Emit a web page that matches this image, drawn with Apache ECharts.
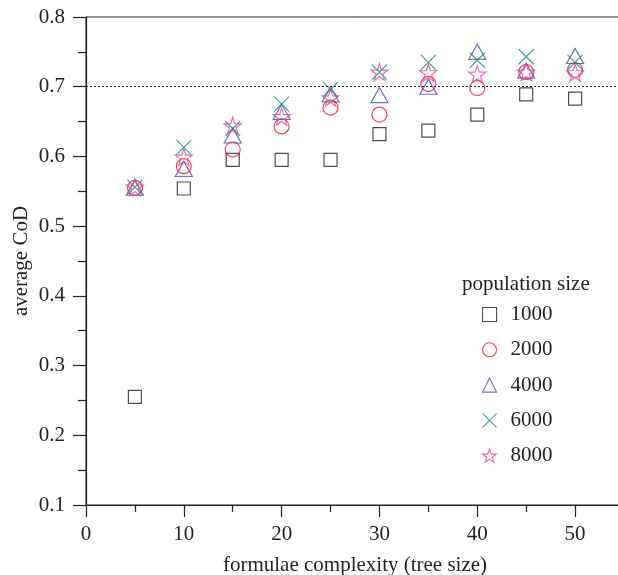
<!DOCTYPE html>
<html>
<head>
<meta charset="utf-8">
<script src="https://cdn.jsdelivr.net/npm/echarts@6/dist/echarts.min.js"></script>
<style>
  html, body { margin: 0; padding: 0; background: #fff; }
  #chart { width: 618px; height: 575px; }
</style>
</head>
<body>
<div id="chart"></div>
<script>
// tree sizes on the x axis
const treeSizes = [5, 10, 15, 20, 25, 30, 35, 40, 45, 50];

// average CoD per population size
const pop1000 = [0.255, 0.554, 0.595, 0.595, 0.595, 0.632, 0.637, 0.660, 0.689, 0.683];
const pop2000 = [0.555, 0.586, 0.610, 0.643, 0.670, 0.660, 0.704, 0.698, 0.721, 0.724];
const pop4000 = [0.555, 0.582, 0.630, 0.664, 0.689, 0.688, 0.700, 0.750, 0.723, 0.744];
const pop6000 = [0.556, 0.613, 0.640, 0.675, 0.696, 0.721, 0.735, 0.738, 0.743, 0.735];
const pop8000 = [0.556, 0.599, 0.644, 0.657, 0.684, 0.721, 0.720, 0.718, 0.721, 0.720];

const legendNames = ['1000', '2000', '4000', '6000', '8000'];
const threshold = 0.7;

const FONT = '"Liberation Serif", "DejaVu Serif", serif';
const FS = 21;
const INK = '#231f20';

const crossPath = 'path://M0,0L20,20M20,0L0,20';
const starPath = 'path://M10,0L12.245,6.91L19.511,6.91L13.633,11.18L15.878,18.09L10,13.82L4.122,18.09L6.367,11.18L0.489,6.91L7.755,6.91Z';

function pairs(vals) {
  return treeSizes.map((x, i) => [x, vals[i]]);
}

function makeSeries(name, vals, symbol, size, color) {
  return {
    name: name,
    type: 'scatter',
    data: pairs(vals),
    symbol: symbol,
    symbolSize: size,
    itemStyle: {
      color: 'rgba(255,255,255,0)',
      borderColor: color,
      borderWidth: 1.2,
    },
    emphasis: { disabled: true },
  };
}

const series = [
  makeSeries(legendNames[0], pop1000, 'rect', 13, INK),
  makeSeries(legendNames[1], pop2000, 'circle', 15, '#ec1c2e'),
  makeSeries(legendNames[2], pop4000, 'triangle', [17, 15], '#4a4fa8'),
  makeSeries(legendNames[3], pop6000, crossPath, 15, '#12897f'),
  makeSeries(legendNames[4], pop8000, starPath, 17, '#e0479e'),
];

// dotted reference line
series[0].markLine = {
  silent: true,
  symbol: ['none', 'none'],
  label: { show: false },
  lineStyle: { color: INK, type: [2, 2], width: 1 },
  data: [{ yAxis: threshold }],
};

const chart = echarts.init(document.getElementById('chart'), null, { renderer: 'canvas' });

chart.setOption({
  animation: false,
  backgroundColor: '#fff',
  grid: {
    left: 86,
    top: 17,
    width: 538,
    height: 488,
    outerBoundsMode: 'none',
    containLabel: false,
    show: true,
    borderColor: INK,
    borderWidth: 1,
  },
  xAxis: {
    type: 'value',
    min: 0,
    max: 55,
    interval: 10,
    name: 'formulae complexity (tree size)',
    nameLocation: 'middle',
    nameGap: 50,
    nameTextStyle: { fontFamily: FONT, fontSize: FS, color: INK },
    axisLine: { lineStyle: { color: INK, width: 1.2 } },
    axisTick: { inside: false, length: 12, lineStyle: { color: INK, width: 1.2 } },
    minorTick: { show: true, splitNumber: 2, length: 7, lineStyle: { color: INK, width: 1.2 } },
    axisLabel: { fontFamily: FONT, fontSize: FS, color: INK, margin: 19, showMaxLabel: false },
    splitLine: { show: false },
  },
  yAxis: {
    type: 'value',
    min: 0.1,
    max: 0.8,
    interval: 0.1,
    name: 'average CoD',
    nameLocation: 'middle',
    nameGap: 54,
    nameMoveOverlap: false,
    nameTextStyle: { fontFamily: FONT, fontSize: FS, color: INK },
    axisLine: { lineStyle: { color: INK, width: 1.2 } },
    axisTick: { inside: false, length: 13, lineStyle: { color: INK, width: 1.2 } },
    minorTick: { show: true, splitNumber: 2, length: 8, lineStyle: { color: INK, width: 1.2 } },
    axisLabel: {
      fontFamily: FONT, fontSize: FS, color: INK, margin: 21,
      formatter: (v) => v.toFixed(1),
    },
    splitLine: { show: false },
  },
  legend: {
    data: legendNames,
    orient: 'vertical',
    left: 477,
    top: 299,
    itemWidth: 14,
    itemHeight: 14,
    itemGap: 14.3,
    selectedMode: false,
    itemStyle: { borderWidth: 1.1 },
    textStyle: { fontFamily: FONT, fontSize: FS, lineHeight: 20, color: INK, padding: [0, 0, 0, 9] },
  },
  graphic: [{
    type: 'text',
    left: 462,
    top: 274,
    style: { text: 'population size', font: FS + 'px ' + FONT, fill: INK },
  }],
  series: series,
});
</script>
</body>
</html>
